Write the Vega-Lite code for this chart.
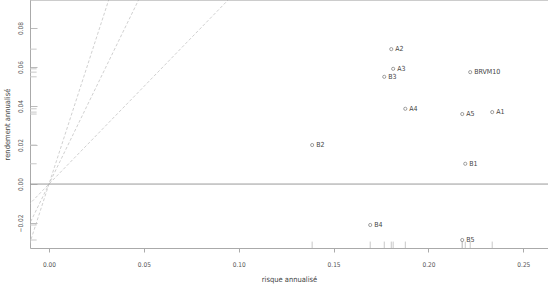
{
  "$schema": "https://vega.github.io/schema/vega-lite/v6.json",
  "width": 518,
  "height": 248,
  "autosize": {"type": "none"},
  "padding": {"left": 30, "top": 0, "right": 0, "bottom": 41},
  "background": "white",
  "config": {
    "view": {"stroke": null},
    "font": "'DejaVu Sans Condensed', 'Liberation Sans', sans-serif",
    "text": {"font": "'DejaVu Sans Condensed', 'Liberation Sans', sans-serif"}
  },
  "datasets": {
    "pts": [
      {"nom": "A1", "risque": 0.2336, "rendement": 0.0369},
      {"nom": "A2", "risque": 0.1804, "rendement": 0.0692},
      {"nom": "A3", "risque": 0.1814, "rendement": 0.0591},
      {"nom": "A4", "risque": 0.1878, "rendement": 0.0386},
      {"nom": "A5", "risque": 0.2178, "rendement": 0.0359},
      {"nom": "B1", "risque": 0.2194, "rendement": 0.0104},
      {"nom": "B2", "risque": 0.1387, "rendement": 0.0200},
      {"nom": "B3", "risque": 0.1767, "rendement": 0.0550},
      {"nom": "B4", "risque": 0.1693, "rendement": -0.0210},
      {"nom": "B5", "risque": 0.2178, "rendement": -0.0287},
      {"nom": "BRVM10", "risque": 0.2220, "rendement": 0.0574}
    ],
    "lignes": [
      {"k": "1", "x": -0.02, "y": -0.02},
      {"k": "1", "x": 0.1, "y": 0.1},
      {"k": "2", "x": -0.02, "y": -0.04},
      {"k": "2", "x": 0.05, "y": 0.1},
      {"k": "3", "x": -0.02, "y": -0.06},
      {"k": "3", "x": 0.034, "y": 0.102}
    ],
    "hlines": [
      {"y": 0},
      {"y": 0.0944}
    ]
  },
  "layer": [
    {
      "data": {"name": "lignes"},
      "mark": {"type": "line", "clip": true, "color": "#c4c4c4", "strokeWidth": 0.8, "strokeDash": [3, 2]},
      "encoding": {
        "x": {"field": "x", "type": "quantitative", "scale": {"domain": [-0.01, 0.263], "nice": false, "zero": false},
          "axis": {"values": [0, 0.05, 0.1, 0.15, 0.2, 0.25], "format": ".2f", "title": "risque annualisé",
            "grid": false, "domainColor": "#aaaaaa", "tickColor": "#aaaaaa", "tickSize": 4,
            "labelFontSize": 6.5, "labelColor": "#555555", "labelPadding": 9,
            "titleFontSize": 7.5, "titleFontWeight": "normal", "titleColor": "#444444", "titlePadding": 8}},
        "y": {"field": "y", "type": "quantitative", "scale": {"domain": [-0.0328, 0.0944], "nice": false, "zero": false},
          "axis": {"values": [-0.02, 0, 0.02, 0.04, 0.06, 0.08], "format": ".2f", "title": "rendement annualisé",
            "grid": false, "domainColor": "#aaaaaa", "tickColor": "#bbbbbb", "tickSize": -7,
            "labelAngle": -90, "labelAlign": "center", "labelBaseline": "bottom",
            "labelFontSize": 6.5, "labelColor": "#555555", "labelPadding": 14,
            "titleFontSize": 7.5, "titleFontWeight": "normal", "titleColor": "#444444", "titlePadding": 6}},
        "detail": {"field": "k"}
      }
    },
    {
      "data": {"name": "hlines"},
      "mark": {"type": "rule", "color": "#999999", "strokeWidth": 1},
      "encoding": {"y": {"field": "y", "type": "quantitative"}}
    },
    {
      "data": {"name": "pts"},
      "mark": {"type": "rule", "color": "#c8c8c8", "strokeWidth": 1},
      "encoding": {
        "x": {"field": "risque", "type": "quantitative"},
        "y": {"datum": -0.0328},
        "y2": {"datum": -0.0295}
      }
    },
    {
      "data": {"name": "pts"},
      "mark": {"type": "rule", "color": "#c8c8c8", "strokeWidth": 1},
      "encoding": {
        "y": {"field": "rendement", "type": "quantitative"},
        "x": {"datum": -0.01},
        "x2": {"datum": -0.0065}
      }
    },
    {
      "data": {"name": "pts"},
      "mark": {"type": "point", "shape": "circle", "filled": false, "size": 10, "stroke": "#555555", "strokeWidth": 0.8},
      "encoding": {
        "x": {"field": "risque", "type": "quantitative"},
        "y": {"field": "rendement", "type": "quantitative"}
      }
    },
    {
      "data": {"name": "pts"},
      "mark": {"type": "text", "align": "left", "baseline": "middle", "dx": 4, "fontSize": 7, "color": "#444444"},
      "encoding": {
        "x": {"field": "risque", "type": "quantitative"},
        "y": {"field": "rendement", "type": "quantitative"},
        "text": {"field": "nom"}
      }
    }
  ]
}
